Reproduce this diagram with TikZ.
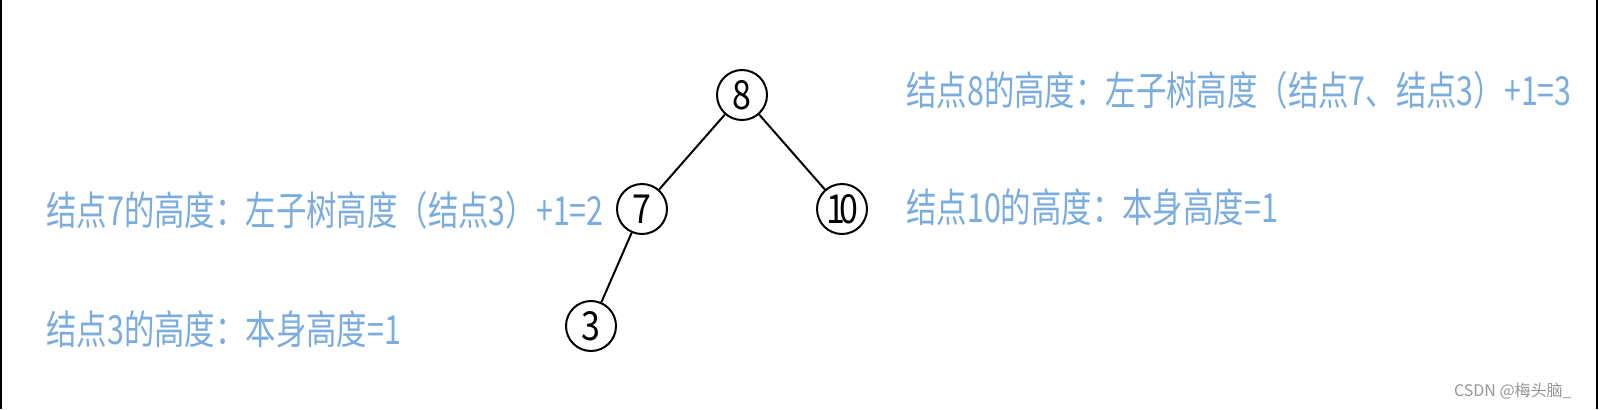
\documentclass[tikz,border=0pt]{standalone}
\usepackage{fontspec}
\newfontfamily\cadfont[FakeStretch=0.76]{Noto Sans CJK SC}
\newfontfamily\numfont[FakeStretch=0.85]{Noto Sans CJK SC}
\newfontfamily\wmfont{Noto Sans CJK SC}
\definecolor{noteblue}{RGB}{122,172,222}
\definecolor{wmgray}{RGB}{150,150,150}
\begin{document}
\begin{tikzpicture}[x=0.5pt,y=-0.5pt,
  treenode/.style={circle,draw=black,line width=1pt,minimum size=25pt,inner sep=0pt,font=\numfont\fontsize{20}{20}\selectfont},
  note/.style={anchor=west,inner sep=0pt,text=noteblue,font=\cadfont\fontsize{20}{20}\selectfont},
  edge/.style={draw=black,line width=1pt}]
\useasboundingbox (0,0) rectangle (1600,409);
\fill[white] (0,0) rectangle (1600,409);
\coordinate (lt) at (1,0); \coordinate (lb) at (1,409);
\coordinate (rt) at (1597,0); \coordinate (rb) at (1597,409);
\draw[line width=1pt] (lt) -- (lb);
\draw[line width=1pt] (rt) -- (rb);
\node[treenode] (n8) at (742,95) {8};
\node[treenode] (n7) at (642,209) {7};
\node[treenode] (n10) at (842,209) {1\kern-3pt0};
\node[treenode] (n3) at (591,326) {3};
\draw[edge] (n8) -- (n7);
\draw[edge] (n8) -- (n10);
\draw[edge] (n7) -- (n3);
\node[note] (t8) at (906,90) {结点8的高度：左子树高度（结点7、结点3）+1=3};
\node[note] (t10) at (906,207) {结点10的高度：本身高度=1};
\node[note] (t7) at (46,210) {结点7的高度：左子树高度（结点3）+1=2};
\node[note] (t3) at (46,329) {结点3的高度：本身高度=1};
\node[anchor=east,inner sep=0pt,text=wmgray,font=\wmfont\fontsize{8}{8}\selectfont] (wm) at (1572,391) {CSDN @梅头脑\_};
\end{tikzpicture}
\end{document}
